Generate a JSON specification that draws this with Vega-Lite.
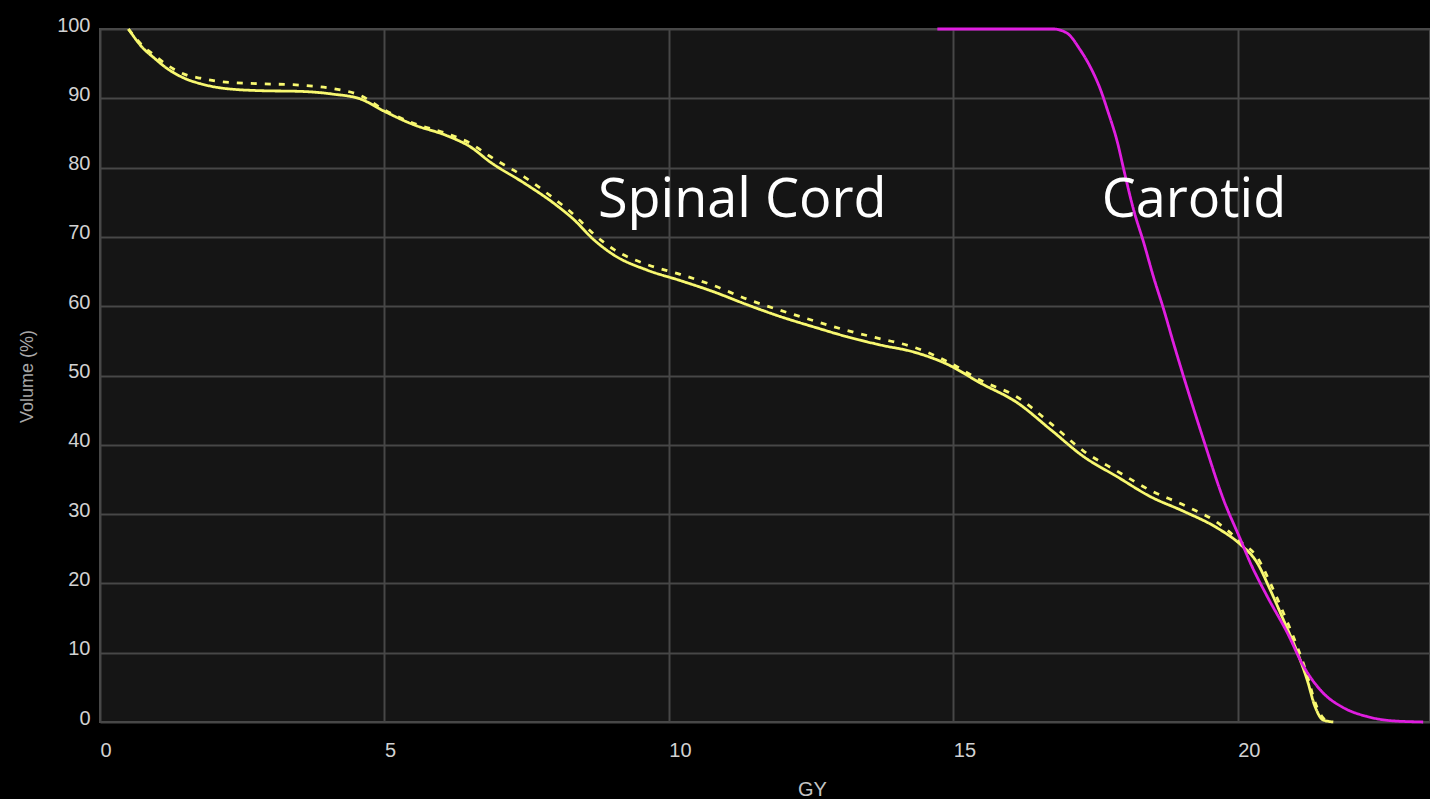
{
  "$schema": "https://vega.github.io/schema/vega-lite/v6.json",
  "autosize": {"type": "none"},
  "width": 1330,
  "height": 693,
  "padding": {"left": 100, "top": 29, "right": 0, "bottom": 77},
  "background": "#000000",
  "config": {
    "view": {"fill": "#151515", "stroke": "#4a4a4a", "strokeWidth": 2}
  },
  "datasets": {
    "curves": [
      {"series": "Spinal Cord", "gy": 0.5, "vol": 100},
      {"series": "Spinal Cord", "gy": 0.76, "vol": 97.2},
      {"series": "Spinal Cord", "gy": 0.94, "vol": 95.9},
      {"series": "Spinal Cord", "gy": 1.18, "vol": 94.3},
      {"series": "Spinal Cord", "gy": 1.54, "vol": 92.7},
      {"series": "Spinal Cord", "gy": 1.77, "vol": 92.1},
      {"series": "Spinal Cord", "gy": 2.12, "vol": 91.5},
      {"series": "Spinal Cord", "gy": 2.82, "vol": 91.1},
      {"series": "Spinal Cord", "gy": 3.52, "vol": 91.0},
      {"series": "Spinal Cord", "gy": 4.1, "vol": 90.6},
      {"series": "Spinal Cord", "gy": 4.58, "vol": 89.9},
      {"series": "Spinal Cord", "gy": 4.98, "vol": 88.2},
      {"series": "Spinal Cord", "gy": 5.51, "vol": 86.2},
      {"series": "Spinal Cord", "gy": 6.1, "vol": 84.6},
      {"series": "Spinal Cord", "gy": 6.51, "vol": 83.0},
      {"series": "Spinal Cord", "gy": 6.86, "vol": 80.8},
      {"series": "Spinal Cord", "gy": 7.45, "vol": 77.8},
      {"series": "Spinal Cord", "gy": 7.97, "vol": 74.9},
      {"series": "Spinal Cord", "gy": 8.33, "vol": 72.5},
      {"series": "Spinal Cord", "gy": 8.68, "vol": 69.6},
      {"series": "Spinal Cord", "gy": 9.03, "vol": 67.4},
      {"series": "Spinal Cord", "gy": 9.62, "vol": 65.2},
      {"series": "Spinal Cord", "gy": 10.2, "vol": 63.7},
      {"series": "Spinal Cord", "gy": 10.78, "vol": 62.1},
      {"series": "Spinal Cord", "gy": 11.38, "vol": 60.2},
      {"series": "Spinal Cord", "gy": 11.96, "vol": 58.5},
      {"series": "Spinal Cord", "gy": 12.55, "vol": 57.0},
      {"series": "Spinal Cord", "gy": 13.13, "vol": 55.6},
      {"series": "Spinal Cord", "gy": 13.72, "vol": 54.4},
      {"series": "Spinal Cord", "gy": 14.3, "vol": 53.4},
      {"series": "Spinal Cord", "gy": 14.9, "vol": 51.6},
      {"series": "Spinal Cord", "gy": 15.48, "vol": 48.9},
      {"series": "Spinal Cord", "gy": 16.12, "vol": 46.1},
      {"series": "Spinal Cord", "gy": 16.71, "vol": 42.2},
      {"series": "Spinal Cord", "gy": 17.29, "vol": 38.3},
      {"series": "Spinal Cord", "gy": 17.88, "vol": 35.4},
      {"series": "Spinal Cord", "gy": 18.47, "vol": 32.5},
      {"series": "Spinal Cord", "gy": 19.05, "vol": 30.4},
      {"series": "Spinal Cord", "gy": 19.64, "vol": 28.0},
      {"series": "Spinal Cord", "gy": 20.05, "vol": 25.6},
      {"series": "Spinal Cord", "gy": 20.34, "vol": 23.0},
      {"series": "Spinal Cord", "gy": 20.57, "vol": 19.1},
      {"series": "Spinal Cord", "gy": 20.8, "vol": 14.8},
      {"series": "Spinal Cord", "gy": 21.05, "vol": 10.0},
      {"series": "Spinal Cord", "gy": 21.22, "vol": 6.1},
      {"series": "Spinal Cord", "gy": 21.36, "vol": 2.2},
      {"series": "Spinal Cord", "gy": 21.5, "vol": 0.3},
      {"series": "Spinal Cord", "gy": 21.68, "vol": 0},
      {"series": "Spinal Cord (dashed)", "gy": 0.5, "vol": 100},
      {"series": "Spinal Cord (dashed)", "gy": 0.76, "vol": 97.5},
      {"series": "Spinal Cord (dashed)", "gy": 0.94, "vol": 96.3},
      {"series": "Spinal Cord (dashed)", "gy": 1.18, "vol": 94.8},
      {"series": "Spinal Cord (dashed)", "gy": 1.54, "vol": 93.3},
      {"series": "Spinal Cord (dashed)", "gy": 1.77, "vol": 92.9},
      {"series": "Spinal Cord (dashed)", "gy": 2.12, "vol": 92.4},
      {"series": "Spinal Cord (dashed)", "gy": 2.82, "vol": 92.1},
      {"series": "Spinal Cord (dashed)", "gy": 3.52, "vol": 91.9},
      {"series": "Spinal Cord (dashed)", "gy": 4.1, "vol": 91.4},
      {"series": "Spinal Cord (dashed)", "gy": 4.58, "vol": 90.4},
      {"series": "Spinal Cord (dashed)", "gy": 4.98, "vol": 88.4},
      {"series": "Spinal Cord (dashed)", "gy": 5.51, "vol": 86.4},
      {"series": "Spinal Cord (dashed)", "gy": 6.1, "vol": 84.9},
      {"series": "Spinal Cord (dashed)", "gy": 6.51, "vol": 83.5},
      {"series": "Spinal Cord (dashed)", "gy": 6.86, "vol": 81.6},
      {"series": "Spinal Cord (dashed)", "gy": 7.45, "vol": 78.7},
      {"series": "Spinal Cord (dashed)", "gy": 7.97, "vol": 75.6},
      {"series": "Spinal Cord (dashed)", "gy": 8.33, "vol": 73.2},
      {"series": "Spinal Cord (dashed)", "gy": 8.68, "vol": 70.4},
      {"series": "Spinal Cord (dashed)", "gy": 9.03, "vol": 68.2},
      {"series": "Spinal Cord (dashed)", "gy": 9.62, "vol": 66.0},
      {"series": "Spinal Cord (dashed)", "gy": 10.2, "vol": 64.6},
      {"series": "Spinal Cord (dashed)", "gy": 10.78, "vol": 63.0},
      {"series": "Spinal Cord (dashed)", "gy": 11.38, "vol": 61.0},
      {"series": "Spinal Cord (dashed)", "gy": 11.96, "vol": 59.4},
      {"series": "Spinal Cord (dashed)", "gy": 12.55, "vol": 57.9},
      {"series": "Spinal Cord (dashed)", "gy": 13.13, "vol": 56.5},
      {"series": "Spinal Cord (dashed)", "gy": 13.72, "vol": 55.3},
      {"series": "Spinal Cord (dashed)", "gy": 14.3, "vol": 54.1},
      {"series": "Spinal Cord (dashed)", "gy": 14.9, "vol": 52.0},
      {"series": "Spinal Cord (dashed)", "gy": 15.48, "vol": 49.3},
      {"series": "Spinal Cord (dashed)", "gy": 16.12, "vol": 46.9},
      {"series": "Spinal Cord (dashed)", "gy": 16.71, "vol": 43.1},
      {"series": "Spinal Cord (dashed)", "gy": 17.29, "vol": 39.1},
      {"series": "Spinal Cord (dashed)", "gy": 17.88, "vol": 36.2},
      {"series": "Spinal Cord (dashed)", "gy": 18.47, "vol": 33.4},
      {"series": "Spinal Cord (dashed)", "gy": 19.05, "vol": 31.3},
      {"series": "Spinal Cord (dashed)", "gy": 19.64, "vol": 28.8},
      {"series": "Spinal Cord (dashed)", "gy": 20.05, "vol": 26.0},
      {"series": "Spinal Cord (dashed)", "gy": 20.34, "vol": 23.8},
      {"series": "Spinal Cord (dashed)", "gy": 20.57, "vol": 20.1},
      {"series": "Spinal Cord (dashed)", "gy": 20.8, "vol": 15.8},
      {"series": "Spinal Cord (dashed)", "gy": 21.05, "vol": 10.8},
      {"series": "Spinal Cord (dashed)", "gy": 21.22, "vol": 6.8},
      {"series": "Spinal Cord (dashed)", "gy": 21.36, "vol": 2.8},
      {"series": "Spinal Cord (dashed)", "gy": 21.5, "vol": 0.6},
      {"series": "Spinal Cord (dashed)", "gy": 21.62, "vol": 0},
      {"series": "Carotid", "gy": 14.72, "vol": 100},
      {"series": "Carotid", "gy": 16.76, "vol": 100},
      {"series": "Carotid", "gy": 17.0, "vol": 99.4},
      {"series": "Carotid", "gy": 17.23, "vol": 97.0},
      {"series": "Carotid", "gy": 17.41, "vol": 94.5},
      {"series": "Carotid", "gy": 17.59, "vol": 91.2},
      {"series": "Carotid", "gy": 17.71, "vol": 88.3},
      {"series": "Carotid", "gy": 17.89, "vol": 83.5},
      {"series": "Carotid", "gy": 18.0, "vol": 79.6},
      {"series": "Carotid", "gy": 18.17, "vol": 73.9},
      {"series": "Carotid", "gy": 18.35, "vol": 69.1},
      {"series": "Carotid", "gy": 18.52, "vol": 64.2},
      {"series": "Carotid", "gy": 18.7, "vol": 59.5},
      {"series": "Carotid", "gy": 18.87, "vol": 54.7},
      {"series": "Carotid", "gy": 19.05, "vol": 49.8},
      {"series": "Carotid", "gy": 19.4, "vol": 40.7},
      {"series": "Carotid", "gy": 19.75, "vol": 32.1},
      {"series": "Carotid", "gy": 20.05, "vol": 26.3},
      {"series": "Carotid", "gy": 20.22, "vol": 23.0},
      {"series": "Carotid", "gy": 20.52, "vol": 18.1},
      {"series": "Carotid", "gy": 20.87, "vol": 12.9},
      {"series": "Carotid", "gy": 21.16, "vol": 8.0},
      {"series": "Carotid", "gy": 21.5, "vol": 4.2},
      {"series": "Carotid", "gy": 21.85, "vol": 2.1},
      {"series": "Carotid", "gy": 22.27, "vol": 0.8},
      {"series": "Carotid", "gy": 22.68, "vol": 0.2},
      {"series": "Carotid", "gy": 23.26, "vol": 0}
    ],
    "labels": [
      {"label": "Spinal Cord", "gy": 11.29, "vol": 72.9},
      {"label": "Carotid", "gy": 19.23, "vol": 72.9}
    ]
  },
  "encoding": {
    "x": {
      "field": "gy", "type": "quantitative",
      "scale": {"domain": [0, 23.38], "nice": false, "zero": false},
      "axis": {
        "values": [0, 5, 10, 15, 20],
        "grid": true, "gridColor": "#474747", "gridWidth": 2,
        "domain": false, "ticks": false, "tickSize": 0,
        "labelAlign": "left", "labelBaseline": "alphabetic", "labelPadding": 34,
        "labelColor": "#d2d2d2", "labelFont": "Liberation Sans", "labelFontSize": 20,
        "title": "GY", "titleColor": "#c4c4c4", "titleFont": "Liberation Sans",
        "titleFontSize": 20, "titleFontWeight": "normal",
        "titleX": 712, "titleY": 73, "titleBaseline": "alphabetic", "titleAlign": "center"
      }
    },
    "y": {
      "field": "vol", "type": "quantitative",
      "scale": {"domain": [0, 100], "nice": false},
      "axis": {
        "values": [0, 10, 20, 30, 40, 50, 60, 70, 80, 90, 100],
        "grid": true, "gridColor": "#474747", "gridWidth": 2,
        "domain": false, "ticks": false, "tickSize": 0,
        "labelAlign": "right", "labelBaseline": "alphabetic", "labelOffset": 2, "labelPadding": 10,
        "labelColor": "#d2d2d2", "labelFont": "Liberation Sans", "labelFontSize": 20,
        "title": "Volume (%)", "titleColor": "#a8a8a8", "titleFont": "Liberation Sans",
        "titleFontSize": 18, "titleFontWeight": "normal",
        "titleX": -73, "titleY": 347, "titleAngle": -90, "titleBaseline": "middle", "titleAlign": "center"
      }
    }
  },
  "layer": [
    {
      "data": {"name": "curves"},
      "mark": {"type": "line", "strokeWidth": 2.8, "interpolate": "monotone"},
      "encoding": {
        "color": {
          "field": "series", "type": "nominal", "legend": null,
          "scale": {
            "domain": ["Spinal Cord", "Spinal Cord (dashed)", "Carotid"],
            "range": ["#f8f870", "#f8f870", "#e01ee0"]
          }
        },
        "strokeDash": {
          "field": "series", "type": "nominal", "legend": null,
          "scale": {
            "domain": ["Spinal Cord", "Spinal Cord (dashed)", "Carotid"],
            "range": [[1, 0], [6, 8], [1, 0]]
          }
        },
        "order": {"field": "gy", "type": "quantitative"}
      }
    },
    {
      "data": {"name": "labels"},
      "mark": {"type": "text", "font": "Open Sans", "fontSize": 54, "color": "#ffffff", "align": "center", "baseline": "alphabetic"},
      "encoding": {"text": {"field": "label"}}
    }
  ]
}
